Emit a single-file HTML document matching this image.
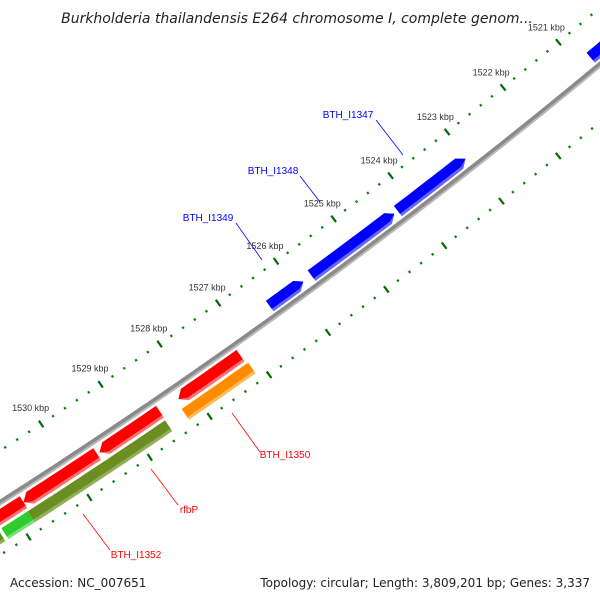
<!DOCTYPE html>
<html><head><meta charset="utf-8"><style>
body{margin:0;background:#fff}
svg{display:block;font-family:"Liberation Sans",sans-serif}
</style></head><body>
<svg id="map" width="600" height="600" viewBox="0 0 600 600" xmlns="http://www.w3.org/2000/svg">
<text x="297" y="23" text-anchor="middle" font-size="14" font-style="italic" fill="#222" font-family="DejaVu Sans, sans-serif">Burkholderia thailandensis E264 chromosome I, complete genom...</text>
<g id="ticks"></g>
<g id="backbone"></g>
<g id="features"></g>
<g font-size="10">
<line x1="376" y1="120" x2="403" y2="155" stroke="#0000ff" stroke-width="0.8"/>
<text x="348" y="118" text-anchor="middle" fill="#0000ff">BTH_I1347</text>
<line x1="300" y1="176" x2="320" y2="202" stroke="#0000ff" stroke-width="0.8"/>
<text x="273" y="174" text-anchor="middle" fill="#0000ff">BTH_I1348</text>
<line x1="236" y1="223" x2="262" y2="260" stroke="#0000ff" stroke-width="0.8"/>
<text x="208" y="221" text-anchor="middle" fill="#0000ff">BTH_I1349</text>
<line x1="232" y1="413" x2="260" y2="452" stroke="#ff0000" stroke-width="0.8"/>
<text x="285" y="458" text-anchor="middle" fill="#ff0000">BTH_I1350</text>
<line x1="151" y1="469" x2="178" y2="505" stroke="#ff0000" stroke-width="0.8"/>
<text x="189" y="513" text-anchor="middle" fill="#ff0000">rfbP</text>
<line x1="83" y1="514" x2="110" y2="550" stroke="#ff0000" stroke-width="0.8"/>
<text x="136" y="558" text-anchor="middle" fill="#ff0000">BTH_I1352</text>
</g>
<text x="10" y="587" font-size="12" fill="#222" font-family="DejaVu Sans, sans-serif">Accession: NC_007651</text>
<text x="590" y="587" font-size="12" text-anchor="end" fill="#222" font-family="DejaVu Sans, sans-serif">Topology: circular; Length: 3,809,201 bp; Genes: 3,337</text>
</svg>
<script>
// data
const tickLabelsKbp = [1521,1522,1523,1524,1525,1526,1527,1528,1529,1530];
const geneStart = [1526440,1524280,1523030,1520300,1527170,1528530,1529580,1530800,1527140,1528540,1529540,1530820,1531300,1526000];
const geneEnd   = [1525860,1525720,1524220,1520790,1528220,1529540,1530800,1531600,1528260,1529560,1530820,1531250,1532200,1526000];
const geneKind  = ['blue','blue','blue','blue','red','red','red','red','orange','olive','olive','green','olive','none'];

const NS="http://www.w3.org/2000/svg";
const A=[0,503],B=[270,320],C=[600,65];
function circ(a,b,c){const d=2*(a[0]*(b[1]-c[1])+b[0]*(c[1]-a[1])+c[0]*(a[1]-b[1]));
const s1=a[0]*a[0]+a[1]*a[1],s2=b[0]*b[0]+b[1]*b[1],s3=c[0]*c[0]+c[1]*c[1];
const ux=(s1*(b[1]-c[1])+s2*(c[1]-a[1])+s3*(a[1]-b[1]))/d;
const uy=(s1*(c[0]-b[0])+s2*(a[0]-c[0])+s3*(b[0]-a[0]))/d;return [ux,uy];}
const cen=circ(A,B,C);const R=Math.hypot(A[0]-cen[0],A[1]-cen[1]);
const thA=Math.atan2(A[1]-cen[1],A[0]-cen[0]),thC=Math.atan2(C[1]-cen[1],C[0]-cen[0]);
const sgn=Math.sign(thC-thA);
const BP0=1531080,PXPERKB=72;
function ang(bp){return thA+sgn*(BP0-bp)/1000*PXPERKB/R;}
function pt(bp,d){const t=ang(bp);return [cen[0]+(R+d)*Math.cos(t),cen[1]+(R+d)*Math.sin(t)];}
function arcPts(b1,b2,d,n){const r=[];for(let i=0;i<=n;i++){r.push(pt(b1+(b2-b1)*i/n,d));}return r;}
function poly(parent,pts,fill,name){const p=document.createElementNS(NS,'polygon');
p.setAttribute('points',pts.map(q=>q[0].toFixed(1)+','+q[1].toFixed(1)).join(' '));
p.setAttribute('fill',fill);


parent.appendChild(p);return p;}

const tg=document.getElementById('ticks');
for(let bp=1519000;bp<=1533000;bp+=200){
 [-44,44].forEach(function(d){
  const major=(bp%1000===0);
  const len=major?4:1.2;
  const a=pt(bp,d-len),b=pt(bp,d+len);
  const l=document.createElementNS(NS,'line');
  l.setAttribute('x1',a[0]);l.setAttribute('y1',a[1]);l.setAttribute('x2',b[0]);l.setAttribute('y2',b[1]);
  l.setAttribute('stroke',major?'#006a00':'#008800');l.setAttribute('stroke-width',2.2);
  
  
  tg.appendChild(l);
 });
}
tickLabelsKbp.forEach(function(k){
 const p=pt(k*1000,-63);
 const t=document.createElementNS(NS,'text');
 t.setAttribute('x',p[0]);t.setAttribute('y',p[1]+3);t.setAttribute('text-anchor','middle');
 t.setAttribute('font-size','9');t.setAttribute('fill','#333');
 
 
 t.textContent=k+' kbp';tg.appendChild(t);
});

const bg=document.getElementById('backbone');
[[ -0.5,5,'#8a8a8a'],[1.5,2,'#b8b8b8']].forEach(function(s){
 const pts=arcPts(1519000,1533000,s[0],60);
 const pl=document.createElementNS(NS,'polyline');
 pl.setAttribute('points',pts.map(q=>q.join(',')).join(' '));
 pl.setAttribute('fill','none');pl.setAttribute('stroke',s[2]);pl.setAttribute('stroke-width',s[1]);
 
 
 bg.appendChild(pl);
});

const fg=document.getElementById('features');
const style={
 blue:{d1:-18,d2:-5,c:'#0000ff',l:'#6666ff',arrow:-1},
 red:{d1:5,d2:19,c:'#ff0000',l:'#ff7070',arrow:1},
 orange:{d1:22,d2:35,c:'#ff8c00',l:'#ffbb55',arrow:0},
 olive:{d1:22,d2:35,c:'#6b8e23',l:'#93b058',arrow:0},
 green:{d1:22,d2:35,c:'#2ecc2e',l:'#77e077',arrow:0}
};
const HEAD=110;
for(let i=0;i<geneStart.length;i++){
 const s=style[geneKind[i]];if(!s)continue;
 const lo=Math.min(geneStart[i],geneEnd[i]),hi=Math.max(geneStart[i],geneEnd[i]);
 function shape(d1,d2){
  let a=lo,b=hi,pts;
  if(s.arrow===-1){
   const a2=lo+HEAD;
   pts=arcPts(a2,b,d1,12).concat(arcPts(b,a2,d2,12));pts.push(pt(lo,(s.d1+s.d2)/2));
  }else if(s.arrow===1){
   const b2=hi-HEAD;
   pts=arcPts(a,b2,d1,12);pts.push(pt(hi,(s.d1+s.d2)/2));pts=pts.concat(arcPts(b2,a,d2,12));
  }else{pts=arcPts(a,b,d1,12).concat(arcPts(b,a,d2,12));}
  return pts;}
 const g=document.createElementNS(NS,'g');
 
 
 fg.appendChild(g);
 poly(g,shape(s.d1,s.d2),s.l,'gene-shade');
 poly(g,shape(s.d1,s.d2-3),s.c,'gene-body');
}
</script>
</body></html>
